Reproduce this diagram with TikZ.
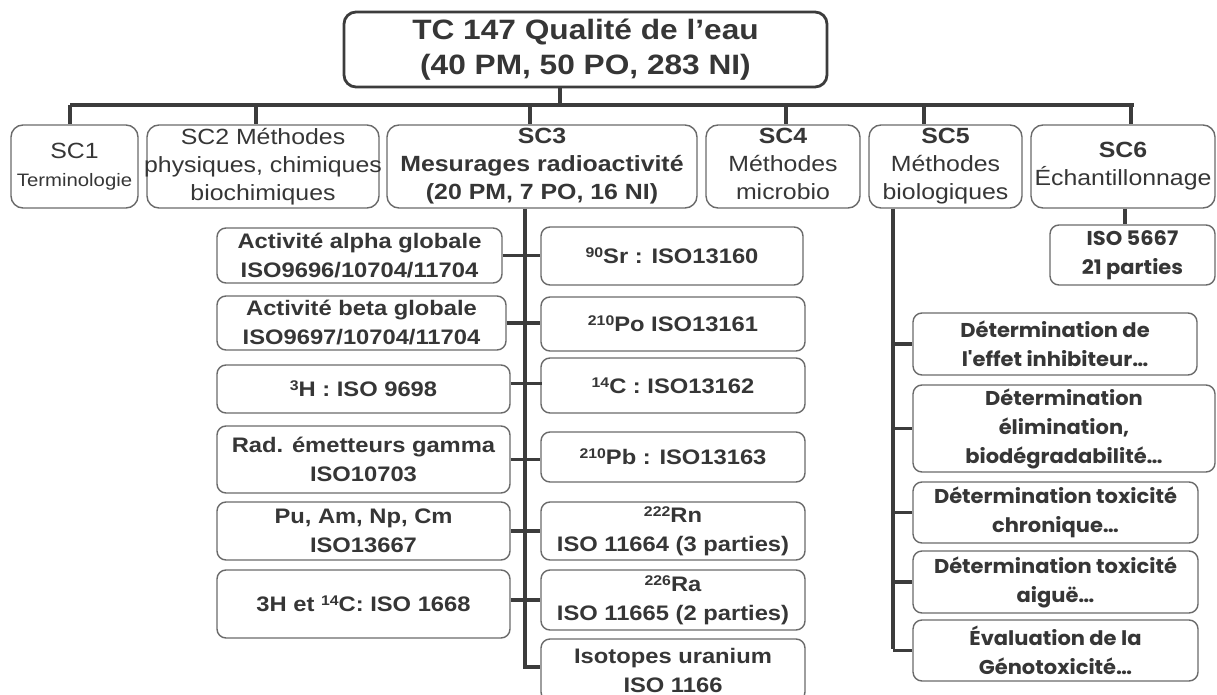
\documentclass[tikz,border=0pt]{standalone}
\usepackage{fontspec}
\setmainfont{Liberation Sans}[FakeStretch=1.13]
\newfontfamily\popp{Poppins}[FakeStretch=1.05]
\definecolor{txt}{HTML}{363636}
\definecolor{bord}{HTML}{6A6A6A}
\definecolor{conncol}{HTML}{3C3C3C}
\newcommand\isup[1]{\raisebox{6pt}{\fontsize{14}{14}\selectfont #1}}
\begin{document}
\begin{tikzpicture}[x=1pt,y=-1pt,
  base/.style={draw=bord, line width=1.4pt, fill=white, text=txt, align=center, inner sep=0pt},
  titlebox/.style={base, draw=conncol, line width=2.8pt, rounded corners=12pt, font=\bfseries\fontsize{28}{35}\selectfont},
  scbox/.style={base, rounded corners=12pt, font=\fontsize{22}{28}\selectfont},
  kid/.style={base, rounded corners=9pt, font=\bfseries\fontsize{21}{29}\selectfont},
  bio/.style={base, rounded corners=9pt, font=\popp\bfseries\fontsize{20}{29}\selectfont},
  conn/.style={draw=conncol, line width=3.2pt}]
\useasboundingbox[fill=white] (0,0) rectangle (1217,695);

% top
\node[titlebox, minimum width=483pt, minimum height=75pt] (tc) at (585.5,49.5) {TC 147 Qualité de l’eau\\(40 PM, 50 PO, 283 NI)};

% SC row
\node[scbox, minimum width=127pt, minimum height=83pt] (sc1) at (74.5,166.5) {SC1\\{\fontsize{18}{28}\selectfont Terminologie}};
\node[scbox, minimum width=232pt, minimum height=83pt] (sc2) at (263,166.5) {SC2 Méthodes\\\makebox[0pt]{physiques, chimiques}\\biochimiques};
\node[scbox, minimum width=310pt, minimum height=83pt, font=\bfseries\fontsize{22}{28}\selectfont] (sc3) at (542,166.5) {SC3\\Mesurages radioactivité\\(20 PM, 7 PO, 16 NI)};
\node[scbox, minimum width=154pt, minimum height=83pt] (sc4) at (783,166.5) {\textbf{SC4}\\Méthodes\\microbio\vphantom{g}};
\node[scbox, minimum width=153pt, minimum height=83pt] (sc5) at (945.5,166.5) {\textbf{SC5}\\Méthodes\\biologiques};
\node[scbox, minimum width=184pt, minimum height=83pt] (sc6) at (1123,166.5) {\textbf{SC6}\\Échantillonnage};

% SC3 children left
\node[kid, minimum width=285pt, minimum height=55pt] (alpha) at (359.5,255.5) {Activité alpha globale\\ISO9696/10704/11704};
\node[kid, minimum width=289pt, minimum height=54pt] (beta) at (361.5,323) {Activité beta globale\\ISO9697/10704/11704};
\node[kid, minimum width=293pt, minimum height=48pt] (h3) at (363.5,389) {\isup{3}H : ISO 9698};
\node[kid, minimum width=293pt, minimum height=67pt] (gam) at (363.5,459.5) {Rad. émetteurs gamma\\ISO10703};
\node[kid, minimum width=293pt, minimum height=58pt] (pu) at (363.5,531) {Pu, Am, Np, Cm\\ISO13667};
\node[kid, minimum width=293pt, minimum height=68pt] (hc) at (363.5,604) {3H et \isup{14}C: ISO 1668};
% SC3 children right
\node[kid, minimum width=262pt, minimum height=58pt] (sr) at (672,256) {\isup{90}Sr : ISO13160};
\node[kid, minimum width=264pt, minimum height=54pt] (po) at (673,324) {\isup{210}Po ISO13161};
\node[kid, minimum width=264pt, minimum height=55pt] (c14) at (673,385.5) {\isup{14}C : ISO13162};
\node[kid, minimum width=264pt, minimum height=50pt] (pb) at (673,457) {\isup{210}Pb : ISO13163};
\node[kid, minimum width=264pt, minimum height=58pt] (rn) at (673,531) {\isup{222}Rn\\ISO 11664 (3 parties)};
\node[kid, minimum width=264pt, minimum height=60pt] (ra) at (673,600) {\isup{226}Ra\\ISO 11665 (2 parties)};
\node[kid, minimum width=264pt, minimum height=62pt] (u) at (673,670) {Isotopes uranium\\ISO 1166};

% SC5 children
\node[bio, minimum width=284pt, minimum height=62pt] (b1) at (1055,344) {Détermination de\\l'effet inhibiteur…};
\node[bio, minimum width=302pt, minimum height=87pt] (b2) at (1064,428.5) {Détermination\\élimination,\\biodégradabilité…};
\node[bio, minimum width=285pt, minimum height=61pt] (b3) at (1055.5,512.5) {Détermination toxicité\\chronique…};
\node[bio, minimum width=285pt, minimum height=62pt] (b4) at (1055.5,582) {Détermination toxicité\\aiguë…};
\node[bio, minimum width=285pt, minimum height=61pt] (b5) at (1055.5,650.5) {Évaluation de la\\Génotoxicité…};
% SC6 child
\node[bio, minimum width=165pt, minimum height=60pt] (iso) at (1132.5,255) {ISO 5667\\21 parties};

% bus
\coordinate (bl) at (70,105);
\coordinate (br) at (1134,105);
\coordinate (d0) at (560,105);
\coordinate (d2) at (256,105);
\coordinate (d3) at (530,105);
\coordinate (d4) at (786,105);
\coordinate (d5) at (924,105);
\coordinate (d6) at (1131,105);
\draw[conn] (tc.south -| d0) -- (d0);
\draw[conn] (bl) -- (br);
\draw[conn] (bl) -- (bl |- sc1.north);
\draw[conn] (d2) -- (d2 |- sc2.north);
\draw[conn] (d3) -- (d3 |- sc3.north);
\draw[conn] (d4) -- (d4 |- sc4.north);
\draw[conn] (d5) -- (d5 |- sc5.north);
\draw[conn] (d6) -- (d6 |- sc6.north);

% SC3 trunk
\coordinate (t3) at (525,667);
\draw[conn] (t3 |- sc3.south) -- (t3) -- (t3 -| u.west);
\draw[conn] (alpha.east) -- (alpha.east -| sr.west);
\draw[conn] (beta.east) -- (beta.east -| po.west);
\draw[conn] (h3.east |- c14.west) ++(0,-2) -- ++(31,0);
\draw[conn] (gam.east) -- (gam.east -| pb.west);
\draw[conn] (pu.east) -- (pu.east -| rn.west);
\draw[conn] (hc.east |- ra.west) -- (ra.west);

% SC5 trunk
\coordinate (t5) at (893,649);
\draw[conn] (t5 |- sc5.south) -- (t5);
\foreach \n in {b1,b2,b3,b4,b5} \draw[conn] (t5 |- \n.west) -- (\n.west);

% SC6
\coordinate (t6) at (1125,0);
\draw[conn] (t6 |- sc6.south) -- (t6 |- iso.north);
\end{tikzpicture}
\end{document}
